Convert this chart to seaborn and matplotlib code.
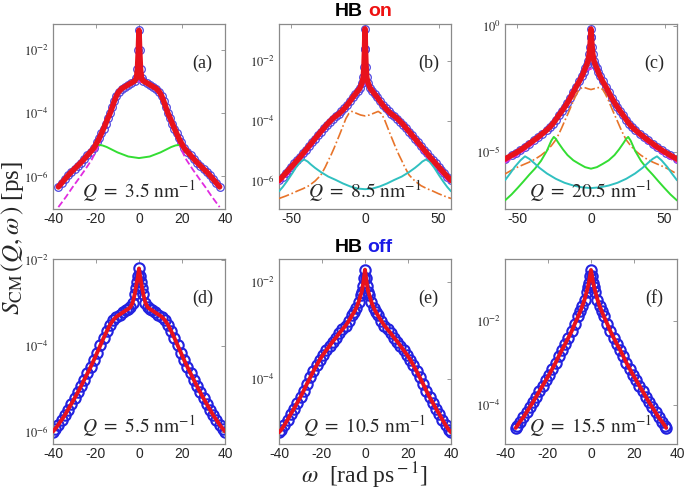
# -*- coding: utf-8 -*-
"""
S_CM(Q, w) - HB on / HB off, seis paineis em escala log
"""
import numpy as np
import matplotlib
matplotlib.use('Agg')
import matplotlib.pyplot as plt
import seaborn as sns
from matplotlib.ticker import NullLocator

# ------------------------------------------------------ #
# DADOS (log10 dos valores, lado w >= 0; a curva e simetrica)
# ------------------------------------------------------ #
# (a) Q = 3.5
A_W = [0, 0.3, 0.7, 1.2, 2, 3.5, 5, 6.5, 8, 9.5, 10.5, 11.5, 12.5, 13.5, 14.5, 15.5,
       16.5, 17.5, 18.5, 19.5, 21, 22.5, 24, 25.5, 27, 28.5, 30, 31.5, 33, 34.5, 36, 37.5]
A_FIT = [-1.38, -2.0, -2.6, -2.9, -2.98, -3.04, -3.10, -3.16, -3.22, -3.33, -3.45, -3.62,
         -3.82, -4.01, -4.16, -4.33, -4.49, -4.64, -4.79, -4.92, -5.10, -5.22, -5.33, -5.45,
         -5.56, -5.66, -5.76, -5.86, -5.97, -6.09, -6.21, -6.33]
A_GREEN_W = [0, 5, 10, 15, 17, 19, 21, 23, 25, 28, 31, 34, 37.5]
A_GREEN = [-5.42, -5.37, -5.24, -5.07, -5.02, -5.00, -5.06, -5.20, -5.38, -5.62, -5.87, -6.12, -6.38]
A_MAG_W = [0, 2, 5, 8, 10, 12, 14, 16, 18, 20, 22, 25, 28, 31, 34, 37.5]
A_MAG = [-3.0, -3.03, -3.12, -3.25, -3.42, -3.68, -4.02, -4.45, -4.88, -5.20, -5.47, -5.78,
         -6.07, -6.35, -6.65, -6.97]

# (b) Q = 8.5
B_W = [0, 0.3, 0.7, 1.2, 2, 3.5, 5, 6.5, 8, 10, 12, 14, 16, 18, 20, 22, 24, 26, 28, 30,
       32, 34, 36, 38, 40, 42, 44, 46, 48, 50, 52, 54, 56, 58.5]
B_FIT = [-0.93, -1.6, -2.2, -2.55, -2.72, -2.91, -3.0, -3.1, -3.19, -3.33, -3.46, -3.58,
         -3.68, -3.77, -3.84, -3.92, -4.02, -4.12, -4.24, -4.35, -4.47, -4.59, -4.71, -4.83,
         -4.95, -5.07, -5.19, -5.30, -5.41, -5.52, -5.63, -5.74, -5.85, -5.98]
B_MAG_W = [0, 3, 6, 10, 15, 20, 25, 30, 35, 40, 45, 50, 55, 58.5]
B_MAG = [-2.7, -2.95, -3.1, -3.35, -3.65, -3.9, -4.15, -4.45, -4.75, -5.07, -5.37, -5.66, -5.92, -6.08]
B_ORANGE_W = [0, 3, 6, 9, 11, 13, 15, 17, 19, 21, 23, 25, 27, 30, 34, 38, 42, 46, 50, 54, 58.5]
B_ORANGE = [-3.83, -3.80, -3.74, -3.68, -3.75, -3.92, -4.17, -4.42, -4.66, -4.90, -5.12, -5.32,
            -5.53, -5.80, -6.0, -6.15, -6.25, -6.33, -6.42, -6.50, -6.58]
B_CYAN_W = [0, 5, 10, 15, 20, 25, 30, 34, 37, 39, 41.5, 44, 47, 50, 53, 56, 58.5]
B_CYAN = [-6.27, -6.25, -6.18, -6.08, -5.96, -5.85, -5.70, -5.56, -5.44, -5.35, -5.28, -5.36,
          -5.55, -5.78, -6.0, -6.2, -6.34]

# (c) Q = 20.5
C_W = [0, 0.3, 0.7, 1.2, 2, 3, 4, 5, 6, 8, 10, 12, 14, 16, 18, 20, 22, 24, 26, 28, 30,
       33, 36, 39, 42, 45, 48, 51, 54, 58.5]
C_FIT = [-0.12, -0.45, -0.82, -1.10, -1.38, -1.55, -1.68, -1.83, -1.97, -2.20, -2.40, -2.62,
         -2.84, -3.04, -3.22, -3.39, -3.55, -3.72, -3.88, -4.01, -4.12, -4.27, -4.41, -4.54,
         -4.67, -4.80, -4.92, -5.03, -5.13, -5.28]
C_MAG_W = [0, 3, 6, 10, 15, 20, 25, 30, 35, 40, 45, 50, 55, 58.5]
C_MAG = [-1.7, -1.75, -2.0, -2.45, -3.0, -3.45, -3.85, -4.2, -4.47, -4.7, -4.92, -5.12, -5.3, -5.42]
C_ORANGE_W = [0, 2, 4, 6, 8, 10, 12, 14, 16, 18, 20, 22, 24, 27, 30, 34, 38, 42, 46, 50, 54, 58.5]
C_ORANGE = [-2.52, -2.49, -2.45, -2.44, -2.52, -2.72, -2.97, -3.25, -3.52, -3.78, -4.05, -4.30,
            -4.52, -4.75, -4.94, -5.13, -5.28, -5.40, -5.50, -5.60, -5.72, -5.87]
C_GREEN_W = [0, 4, 8, 12, 16, 19, 22, 24, 25.3, 27, 30, 34, 38, 42, 46, 50, 54, 58.5]
C_GREEN = [-5.66, -5.60, -5.47, -5.33, -5.12, -4.90, -4.65, -4.47, -4.40, -4.55, -4.95, -5.35,
           -5.65, -5.90, -6.17, -6.43, -6.68, -6.92]
C_CYAN_W = [0, 6, 12, 18, 24, 30, 35, 39, 42, 44.9, 48, 52, 55, 58.5]
C_CYAN = [-6.43, -6.40, -6.33, -6.22, -6.06, -5.85, -5.63, -5.42, -5.27, -5.17, -5.33, -5.60, -5.85, -6.12]

# (d) Q = 5.5, (e) Q = 10.5, (f) Q = 15.5  -- HB off
D_W = [0, 0.5, 1, 1.5, 2, 3, 4, 5, 6, 7.5, 9, 10.5, 12, 13.5, 15, 16.5, 18, 19.5, 21,
       22.5, 24, 25.5, 27, 28.5, 30, 31.5, 33, 34.5, 36, 37.5, 39, 40]
D_FIT = [-2.2, -2.38, -2.52, -2.66, -2.8, -3.0, -3.1, -3.14, -3.17, -3.22, -3.27, -3.32, -3.4,
         -3.51, -3.66, -3.82, -3.99, -4.16, -4.33, -4.49, -4.64, -4.79, -4.94, -5.08, -5.22,
         -5.35, -5.48, -5.61, -5.72, -5.83, -5.93, -5.99]
E_W = D_W
E_FIT = [-1.75, -1.92, -2.08, -2.2, -2.27, -2.42, -2.53, -2.62, -2.69, -2.8, -2.9, -2.98, -3.06,
         -3.15, -3.23, -3.32, -3.41, -3.5, -3.6, -3.72, -3.84, -3.97, -4.1, -4.24, -4.37,
         -4.49, -4.61, -4.72, -4.84, -4.95, -5.05, -5.1]
F_W = [0, 0.5, 1, 1.5, 2, 3, 4, 5, 6, 7.5, 9, 10.5, 12, 13.5, 15, 16.5, 18, 19.5, 21,
       22.5, 24, 25.5, 27, 28.5, 30, 31.5, 33, 34.5, 35]
F_FIT = [-0.8, -0.95, -1.1, -1.21, -1.31, -1.5, -1.65, -1.78, -1.9, -2.07, -2.25, -2.4, -2.55,
         -2.69, -2.84, -3.0, -3.14, -3.28, -3.41, -3.54, -3.67, -3.8, -3.93, -4.05, -4.17,
         -4.29, -4.39, -4.5, -4.54]

Q_VALUES = ['3.5', '8.5', '20.5', '5.5', '10.5', '15.5']
PANEL_TAGS = ['(a)', '(b)', '(c)', '(d)', '(e)', '(f)']

# ------------------------------------------------------ #
# CORES
# ------------------------------------------------------ #
RED = '#e8121c'
BLUE = '#2222e0'
BLUE_ON = '#5048e0'
GREEN = '#33dd33'
CYAN = '#30c0c0'
ORANGE = '#e8742a'
MAGENTA = '#e02ce0'
FRAME = '#8a8a8a'


def mirror(w, logs):
    """Espelha o lado w>=0 para obter a curva completa"""
    w = np.asarray(w, float)
    v = 10.0 ** np.asarray(logs, float)
    x = np.concatenate([-w[:0:-1], w])
    y = np.concatenate([v[:0:-1], v])
    return x, y


def draw_line(ax, w, logs, color, lw, ls='-', z=3):
    x, y = mirror(w, logs)
    sns.lineplot(x=x, y=y, ax=ax, color=color, lw=lw, ls=ls,
                 estimator=None, sort=False, zorder=z)


def draw_points(ax, w, logs, ms, mew, color):
    x, y = mirror(w, logs)
    sns.lineplot(x=x, y=y, ax=ax, color=color, lw=0, marker='o', ms=ms,
                 mfc='none', mec=color, mew=mew, estimator=None, sort=False, zorder=2)


# ------------------------------------------------------ #
# AMBIENTE VISUAL
# ------------------------------------------------------ #
sns.set_theme(style='white')
plt.rcParams['font.family'] = ['Liberation Serif', 'DejaVu Serif']
plt.rcParams['mathtext.fontset'] = 'stix'
plt.rcParams['axes.unicode_minus'] = False

fig = plt.figure(figsize=(6.85, 4.91), dpi=100)
fig.patch.set_facecolor('white')

W_FRAC = 172 / 685
H_FRAC = 185 / 491
lefts = [53 / 685, 279 / 685, 505 / 685]
bottoms = [1 - 209 / 491, 1 - 444 / 491]

axes = []
for r in range(2):
    for c in range(3):
        ax = fig.add_axes([lefts[c], bottoms[r], W_FRAC, H_FRAC])
        ax.set_yscale('log')
        axes.append(ax)
ax_a, ax_b, ax_c, ax_d, ax_e, ax_f = axes

# ------------------------------------------------------ #
# HB on
# ------------------------------------------------------ #
draw_points(ax_a, A_W, A_FIT, 5.5, 0.9, BLUE_ON)
draw_line(ax_a, A_MAG_W, A_MAG, MAGENTA, 1.3, '--')
draw_line(ax_a, A_GREEN_W, A_GREEN, GREEN, 1.4)
draw_line(ax_a, A_W, A_FIT, RED, 4.0, z=4)

draw_points(ax_b, B_W, B_FIT, 5.5, 0.9, BLUE_ON)
draw_line(ax_b, B_MAG_W, B_MAG, MAGENTA, 1.3, '--')
draw_line(ax_b, B_ORANGE_W, B_ORANGE, ORANGE, 1.2, '-.')
draw_line(ax_b, B_CYAN_W, B_CYAN, CYAN, 1.4)
draw_line(ax_b, B_W, B_FIT, RED, 4.0, z=4)

draw_points(ax_c, C_W, C_FIT, 5.5, 0.9, BLUE_ON)
draw_line(ax_c, C_MAG_W, C_MAG, MAGENTA, 1.3, '--')
draw_line(ax_c, C_ORANGE_W, C_ORANGE, ORANGE, 1.2, '-.')
draw_line(ax_c, C_GREEN_W, C_GREEN, GREEN, 1.4)
draw_line(ax_c, C_CYAN_W, C_CYAN, CYAN, 1.4)
draw_line(ax_c, C_W, C_FIT, RED, 4.0, z=4)

# ------------------------------------------------------ #
# HB off
# ------------------------------------------------------ #
for ax, w, fit in [(ax_d, D_W, D_FIT), (ax_e, E_W, E_FIT), (ax_f, F_W, F_FIT)]:
    draw_points(ax, w, fit, 7.5, 1.5, BLUE)
    draw_line(ax, w, fit, RED, 2.8, z=4)

# ------------------------------------------------------ #
# EIXOS
# ------------------------------------------------------ #
limits = [
    ((-40, 40), (-7.03, -1.18), [-2, -4, -6], [-40, -20, 0, 20, 40]),
    ((-58.5, 58.5), (-6.93, -0.77), [-2, -4, -6], [-50, 0, 50]),
    ((-58.5, 58.5), (-7.26, 0.08), [0, -5], [-50, 0, 50]),
    ((-40, 40), (-6.28, -1.98), [-2, -4, -6], [-40, -20, 0, 20, 40]),
    ((-40, 40), (-5.34, -1.53), [-2, -4], [-40, -20, 0, 20, 40]),
    ((-40, 40), (-4.92, -0.54), [-2, -4], [-40, -20, 0, 20, 40]),
]

for i, ax in enumerate(axes):
    xl, yl, yt, xt = limits[i]
    ax.set_xlim(*xl)
    ax.set_ylim(10.0 ** yl[0], 10.0 ** yl[1])
    ax.set_yticks([10.0 ** e for e in yt])
    ax.set_yticklabels([r'$10^{%d}$' % e for e in yt], fontsize=9)
    ax.yaxis.set_minor_locator(NullLocator())
    ax.set_xticks(xt)
    ax.set_xticklabels([str(v) for v in xt], fontsize=10, family='Liberation Sans')
    ax.tick_params(direction='in', length=3, width=0.6, color=FRAME,
                   top=True, right=True)
    ax.tick_params(axis='x', pad=2)
    ax.tick_params(axis='y', pad=3)
    ax.set_xlabel('')
    ax.set_ylabel('')
    for s in ax.spines.values():
        s.set_color(FRAME)
        s.set_linewidth(0.9)
    ax.text(0.87, 0.79, PANEL_TAGS[i], transform=ax.transAxes,
            ha='center', va='center', fontsize=13)
    ax.text(0.5, 0.025, r'$Q\ \mathrm{=\ %s\ nm^{-1}}$' % Q_VALUES[i],
            transform=ax.transAxes, ha='center', va='bottom', fontsize=14)

# ------------------------------------------------------ #
# TITULOS E RÓTULOS
# ------------------------------------------------------ #
fig.text(363 / 685, 1 - 12 / 491, 'HB', ha='right', va='center', fontsize=14,
         fontweight='bold', family='Liberation Sans', color='black')
fig.text(368 / 685, 1 - 12 / 491, 'on', ha='left', va='center', fontsize=14,
         fontweight='bold', family='Liberation Sans', color='#ee1111')
fig.text(363 / 685, 1 - 247 / 491, 'HB', ha='right', va='center', fontsize=14,
         fontweight='bold', family='Liberation Sans', color='black')
fig.text(367 / 685, 1 - 247 / 491, 'off', ha='left', va='center', fontsize=14,
         fontweight='bold', family='Liberation Sans', color='#1a1ae6')

fig.text(0.018, 1 - 238 / 491, r'$S_{\rm CM}\,(Q,\omega\,)$ [ps]', rotation=90,
         ha='center', va='center', fontsize=18)
fig.text(364 / 685, 1 - 476 / 491, r'$\omega$  [rad ps$^{\rm -1}$]',
         ha='center', va='center', fontsize=17)

fig.savefig('out.png', dpi=100)
